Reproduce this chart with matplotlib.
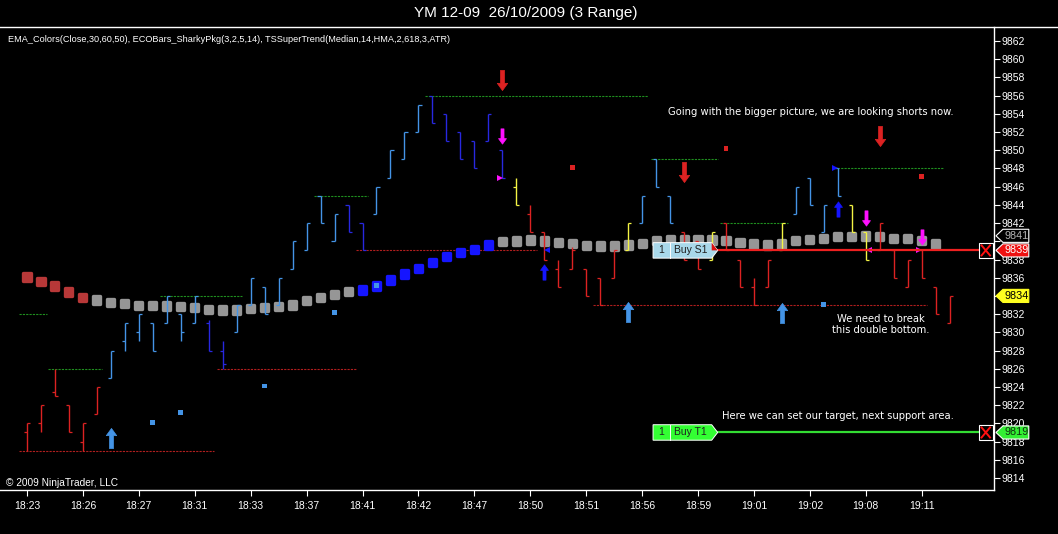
import numpy as np
import matplotlib.pyplot as plt
import matplotlib.transforms as mtransforms
from matplotlib.path import Path
from matplotlib.markers import MarkerStyle
from matplotlib.patches import Polygon, Rectangle
from matplotlib.lines import Line2D

plt.rcParams['font.family'] = ['Liberation Sans', 'DejaVu Sans']

# ---- data --------------------------------------------------------------
time_labels = ['18:23', '18:26', '18:27', '18:31', '18:33', '18:37', '18:41', '18:42',
               '18:47', '18:50', '18:51', '18:56', '18:59', '19:01', '19:02', '19:08',
               '19:11']

bar_low = [9817, 9819, 9823, 9819, 9817, 9821, 9825, 9828, 9829, 9828,
           9831, 9829, 9831, 9828, 9826, 9830, 9833, 9832, 9833, 9837,
           9839, 9842, 9840, 9841, 9839, 9843, 9847, 9849, 9852, 9853,
           9851, 9849, 9848, 9851, 9847, 9844, 9841, 9838, 9835, 9837,
           9834, 9833, 9836, 9839, 9842, 9846, 9842, 9838, 9837, 9838,
           9839, 9835, 9833, 9835, 9839, 9843, 9844, 9841, 9845, 9841,
           9838, 9839, 9836, 9835, 9836, 9832, 9831]
bar_high = [9820, 9822, 9826, 9822, 9820, 9824, 9828, 9831, 9832, 9831,
            9834, 9832, 9834, 9831.4, 9829, 9833, 9836, 9835, 9836, 9840,
            9842, 9845, 9843, 9844, 9842, 9846, 9850, 9852, 9855, 9856,
            9854, 9852, 9851, 9854, 9850, 9847, 9844, 9841, 9838, 9839.4,
            9837, 9836, 9839, 9842, 9845, 9849, 9845, 9841, 9840, 9841,
            9842, 9838, 9836, 9838, 9842, 9846, 9847, 9844, 9848, 9844,
            9841, 9842, 9839, 9838, 9839, 9835, 9834]
bar_open = [9819, 9820, 9823.5, 9822, 9818, 9821, 9825, 9829, 9830, 9831,
            9831, 9832, 9831, 9831, 9828, 9830, 9833, 9835, 9833, 9837,
            9839, 9845, 9840, 9844, 9842, 9843, 9847, 9849, 9852, 9856,
            9854, 9852, 9851, 9851, 9850, 9846, 9843, 9841, 9837, 9837,
            9837, 9836, 9836, 9839, 9842, 9849, 9845, 9841, 9840, 9838,
            9842, 9838, 9835, 9835, 9839, 9843, 9847, 9841, 9848, 9844,
            9841, 9839, 9839, 9835, 9839, 9835, 9831]
bar_close = [9820, 9822, 9823, 9819, 9820, 9824, 9828, 9831, 9832, 9828,
             9834, 9830, 9834, 9828, 9826.5, 9833, 9836, 9832, 9836, 9840,
             9842, 9842, 9843, 9841, 9839, 9846, 9850, 9852, 9855, 9853,
             9851, 9849, 9848, 9854, 9847, 9844, 9841, 9838, 9835, 9839,
             9834, 9833, 9839, 9842, 9845, 9846, 9842, 9838, 9837, 9841,
             9839, 9835, 9833, 9838, 9842, 9846, 9844, 9844, 9845, 9841,
             9838, 9842, 9836, 9838, 9836, 9832, 9834]
bar_kind = list('rrrrrrlllllllddlllllllldd'
                'llllddddddy' 'rrrrrrrylllrry' 'rrrry' 'lllly' 'yrrrrrr')

ema_vals = [9836.08, 9835.56, 9835.09, 9834.43, 9833.85, 9833.55, 9833.30, 9833.19,
            9832.97, 9832.97, 9832.89, 9832.86, 9832.75, 9832.53, 9832.45, 9832.45,
            9832.60, 9832.70, 9832.81, 9833.00, 9833.47, 9833.80, 9834.17, 9834.46,
            9834.65, 9835.09, 9835.75, 9836.41, 9837.03, 9837.72, 9838.31, 9838.75,
            9839.12, 9839.59, 9839.94, 9840.03, 9840.14, 9840.03, 9839.88, 9839.77,
            9839.55, 9839.48, 9839.48, 9839.59, 9839.77, 9840.06, 9840.21, 9840.14,
            9840.14, 9840.14, 9840.05, 9839.90, 9839.70, 9839.59, 9839.70, 9840.06,
            9840.21, 9840.32, 9840.50, 9840.50, 9840.58, 9840.50, 9840.28, 9840.28,
            9840.06, 9839.70]
ema_kind = ['r'] * 5 + ['g'] * 19 + ['b'] * 10 + ['g'] * 32

stop_bar = [9, 11, 17, 22, 25, 57, 39, 50, 64]
stop_price = [9820.1, 9821.2, 9824.1, 9832.2, 9835.1, 9833.1, 9848.1, 9850.2, 9847.1]
stop_kind = ['l', 'l', 'l', 'l', 'l', 'l', 'r', 'r', 'r']

level_price = [9832, 9826, 9817, 9834, 9826, 9845, 9839, 9856, 9833, 9849, 9842, 9848]
level_start = [-0.6, 1.5, -0.6, 9.5, 13.6, 20.5, 23.5, 28.5, 40.5, 44.6, 49.6, 57.7]
level_end = [1.4, 5.4, 13.4, 15.4, 23.5, 24.4, 36.5, 44.4, 64.4, 49.4, 54.4, 65.5]
level_kind = ['g', 'g', 'r', 'g', 'r', 'g', 'r', 'g', 'r', 'g', 'g', 'g']

arrow_bar = [6, 34, 34, 47, 37, 43, 61, 58, 60, 64, 54]
arrow_price = [9818.4, 9857.7, 9851.6, 9847.6, 9836.6, 9832.2, 9851.6, 9843.6,
               9842.6, 9840.5, 9832.1]
arrow_dir = ['up', 'down', 'down', 'down', 'up', 'up', 'down', 'up', 'down', 'down', 'up']
arrow_kind = ['l', 'r', 'm', 'r', 'b', 'l', 'r', 'b', 'm', 'm', 'l']
arrow_big = [True, True, False, True, False, True, True, False, False, False, True]

tri_bar = [33.8, 37.2, 57.8, 60.2, 63.8]
tri_price = [9847, 9839, 9848, 9839, 9839]
tri_marker = ['>', '<', '>', '<', '>']
tri_kind = ['m', 'b', 'b', 'm', 'm']

order_names = ['Buy S1', 'Buy T1']
order_prices = [9839, 9819]
last_price = 9834
hidden_tag_price = 9840.6

colors = {'r': '#dc2222', 'l': '#4494e6', 'd': '#2828e0', 'y': '#f4f444',
          'g': '#969696', 'b': '#1515ff', 'm': '#ff10ff'}
ema_colors = {'r': '#b83838', 'g': '#969696', 'b': '#1515ff'}
level_colors = {'g': '#1f8f1f', 'r': '#b01e1e'}

# ---- figure -------------------------------------------------------------
fig = plt.figure(figsize=(10.58, 5.34), dpi=100, facecolor='black')
ax = fig.add_axes([0.0, 44 / 534, 994 / 1058, 463 / 534], facecolor='black')
ax.set_xlim(-1.93, 69.17)
ax.set_ylim(9812.68, 9863.54)

# swing levels
for p, a, b, k in zip(level_price, level_start, level_end, level_kind):
    ax.plot([a, b], [p, p], color=level_colors[k], lw=0.8, ls=(0, (2, 1)), zorder=1)

# EMA dots
rsq = MarkerStyle('s', joinstyle='round')
ax.scatter(np.arange(len(ema_vals)), ema_vals, marker=rsq, s=26,
           c=[ema_colors[k] for k in ema_kind], edgecolors=[ema_colors[k] for k in ema_kind],
           linewidths=2.4, zorder=2)

# range bars
x = np.arange(len(bar_low))
bc = [colors[k] for k in bar_kind]
ax.vlines(x, bar_low, bar_high, colors=bc, lw=1.0, zorder=3)
ax.hlines(bar_open, x - 0.22, x, colors=bc, lw=0.9, zorder=3)
ax.hlines(bar_close, x, x + 0.22, colors=bc, lw=0.9, zorder=3)

# stop markers
ax.scatter(stop_bar, stop_price, marker='s', s=12, c=[colors[k] for k in stop_kind],
           linewidths=0, zorder=4)

# arrows
up_path = Path([(0, 0.5), (0.26, 0.14), (0.1, 0.14), (0.1, -0.5), (-0.1, -0.5),
                (-0.1, 0.14), (-0.26, 0.14), (0, 0.5)], closed=True)
down_path = Path(up_path.vertices * [1, -1], closed=True)
for b, p, d, k, big in zip(arrow_bar, arrow_price, arrow_dir, arrow_kind, arrow_big):
    ax.plot(b, p, marker=up_path if d == 'up' else down_path,
            ms=14.5 if big else 11, color=colors[k], mec=colors[k], mew=0.5, zorder=5)
for b, p, m, k in zip(tri_bar, tri_price, tri_marker, tri_kind):
    ax.plot(b, p, marker=m, ms=5, color=colors[k], mew=0, zorder=5)

# axes styling
for s in ['left', 'top']:
    ax.spines[s].set_visible(False)
for s in ['right', 'bottom']:
    ax.spines[s].set_color('white')
    ax.spines[s].set_linewidth(1.0)
ax.yaxis.tick_right()
yt = np.arange(9814, 9863, 2)
ax.set_yticks(yt)
# labels hidden behind the price markers on the axis
ax.set_yticklabels(['' if v in (9834, 9840) else str(v) for v in yt])
ax.set_xticks(np.arange(0, 65, 4))
ax.set_xticklabels(time_labels)
ax.tick_params(colors='white', labelsize=7.5, length=4, width=0.8, direction='out')
ax.tick_params(axis='x', pad=4)
ax.tick_params(axis='y', pad=1.5)

fig.add_artist(Line2D([0, 1], [1 - 27 / 534, 1 - 27 / 534], color='white', lw=1.0))
fig.text(0.497, 1 - 13 / 534, 'YM 12-09  26/10/2009 (3 Range)', color='white',
         fontsize=11, ha='center', va='center')
ax.text(8 / 994, 1 - 13 / 463, 'EMA_Colors(Close,30,60,50), ECOBars_SharkyPkg(3,2,5,14), '
        'TSSuperTrend(Median,14,HMA,2,618,3,ATR)', transform=ax.transAxes,
        color='white', fontsize=6.6, ha='left', va='center')
ax.text(6 / 994, 7 / 463, '\u00a9 2009 NinjaTrader, LLC', transform=ax.transAxes,
        color='white', fontsize=7.3, ha='left', va='center')

# notes
note_kw = dict(color='white', fontsize=7.2, ha='center', va='center', zorder=6,
               family='DejaVu Sans')
ax.text(56.1, 9854.2, 'Going with the bigger picture, we are looking shorts now.', **note_kw)
ax.text(61.1, 9830.9, 'We need to break\nthis double bottom.', linespacing=1.15, **note_kw)
ax.text(58.0, 9820.8, 'Here we can set our target, next support area.', **note_kw)

# order lines and tags
tr = mtransforms.blended_transform_factory(ax.transAxes, ax.transData)
order_fill = ['#a9d8ea', '#33ff33']
order_line = ['#ee2020', '#33dd33']
for name, p, fill, lc in zip(order_names, order_prices, order_fill, order_line):
    h = 0.85
    ax.plot([0.722, 0.985], [p, p], color=lc, lw=1.6, transform=tr, zorder=6)
    ax.add_patch(Polygon([(0.657, p - h), (0.716, p - h), (0.722, p), (0.716, p + h),
                          (0.657, p + h)], closed=True, fc=fill, ec='white', lw=0.7,
                         transform=tr, zorder=7))
    ax.plot([0.674, 0.674], [p - h, p + h], color='white', lw=0.7, transform=tr, zorder=8)
    ax.text(0.6655, p, '1', transform=tr, fontsize=7.5, ha='center', va='center',
            color='#202020', zorder=8)
    ax.text(0.6945, p, name, transform=tr, fontsize=7.5, ha='center', va='center',
            color='#202020', zorder=8)
    if lc == '#ee2020':
        ax.add_patch(Polygon([(0.716, p + h), (0.722, p), (0.716, p)], closed=True,
                             fc='#dd1010', ec='none', transform=tr, zorder=8))
    ax.add_patch(Rectangle((0.985, p - 0.8), 0.0135, 1.6, fc='black', ec='white', lw=0.8,
                           transform=tr, zorder=8, clip_on=False))
    ax.plot([0.9875, 0.996], [p - 0.55, p + 0.55], color='#ff1010', lw=1.4, transform=tr,
            zorder=9, clip_on=False)
    ax.plot([0.9875, 0.996], [p + 0.55, p - 0.55], color='#ff1010', lw=1.4, transform=tr,
            zorder=9, clip_on=False)


def price_tag(p, fc, tc, label, ec='white'):
    h = 0.72
    ax.add_patch(Polygon([(1.002, p), (1.009, p + h), (1.035, p + h), (1.035, p - h),
                          (1.009, p - h)], closed=True, fc=fc, ec=ec, lw=0.8,
                         transform=tr, zorder=10, clip_on=False))
    ax.text(1.023, p, label, transform=tr, color=tc, fontsize=7.8, ha='center',
            va='center', zorder=11, clip_on=False)


price_tag(hidden_tag_price, 'black', '#b4b4b4', str(round(hidden_tag_price)))
price_tag(order_prices[0], '#ee1111', 'white', str(order_prices[0]))
price_tag(last_price, '#ffff20', 'black', str(last_price), ec='#ffff20')
price_tag(order_prices[1], '#33ee33', '#103010', str(order_prices[1]))

fig.savefig('out.png', dpi=100, facecolor='black')
